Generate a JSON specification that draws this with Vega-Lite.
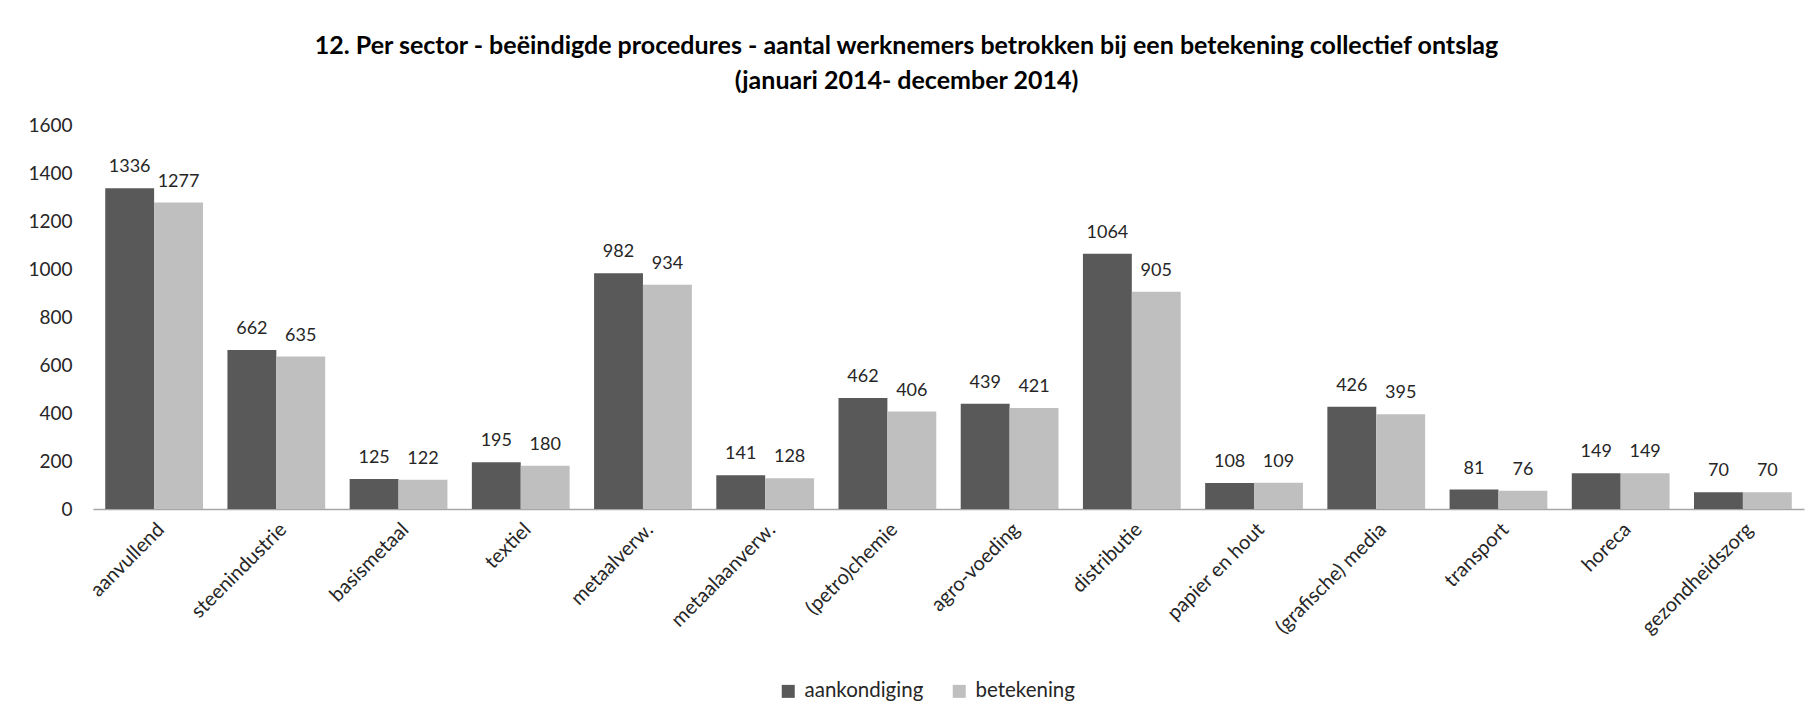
{
  "$schema": "https://vega.github.io/schema/vega-lite/v6.json",
  "width": 1711,
  "height": 384,
  "autosize": {"type": "none"},
  "padding": {"left": 93, "top": 125, "right": 7, "bottom": 211},
  "background": "white",
  "config": {
    "font": "Lato",
    "view": {"stroke": null},
    "axis": {"labelFont": "Lato", "labelColor": "#262626"},
    "legend": {"labelFont": "Lato", "labelColor": "#262626"}
  },
  "title": {
    "text": ["12. Per sector - beëindigde procedures - aantal werknemers betrokken bij een betekening collectief ontslag", "(januari 2014- december 2014)"],
    "font": "Lato",
    "fontSize": 25,
    "fontWeight": "bold",
    "color": "#000000",
    "anchor": "middle",
    "dx": -42,
    "offset": 22,
    "lineHeight": 35
  },
  "data": {
    "values": [
      {"sector": "aanvullend", "type": "aankondiging", "value": 1336},
      {"sector": "aanvullend", "type": "betekening", "value": 1277},
      {"sector": "steenindustrie", "type": "aankondiging", "value": 662},
      {"sector": "steenindustrie", "type": "betekening", "value": 635},
      {"sector": "basismetaal", "type": "aankondiging", "value": 125},
      {"sector": "basismetaal", "type": "betekening", "value": 122},
      {"sector": "textiel", "type": "aankondiging", "value": 195},
      {"sector": "textiel", "type": "betekening", "value": 180},
      {"sector": "metaalverw.", "type": "aankondiging", "value": 982},
      {"sector": "metaalverw.", "type": "betekening", "value": 934},
      {"sector": "metaalaanverw.", "type": "aankondiging", "value": 141},
      {"sector": "metaalaanverw.", "type": "betekening", "value": 128},
      {"sector": "(petro)chemie", "type": "aankondiging", "value": 462},
      {"sector": "(petro)chemie", "type": "betekening", "value": 406},
      {"sector": "agro-voeding", "type": "aankondiging", "value": 439},
      {"sector": "agro-voeding", "type": "betekening", "value": 421},
      {"sector": "distributie", "type": "aankondiging", "value": 1064},
      {"sector": "distributie", "type": "betekening", "value": 905},
      {"sector": "papier en hout", "type": "aankondiging", "value": 108},
      {"sector": "papier en hout", "type": "betekening", "value": 109},
      {"sector": "(grafische) media", "type": "aankondiging", "value": 426},
      {"sector": "(grafische) media", "type": "betekening", "value": 395},
      {"sector": "transport", "type": "aankondiging", "value": 81},
      {"sector": "transport", "type": "betekening", "value": 76},
      {"sector": "horeca", "type": "aankondiging", "value": 149},
      {"sector": "horeca", "type": "betekening", "value": 149},
      {"sector": "gezondheidszorg", "type": "aankondiging", "value": 70},
      {"sector": "gezondheidszorg", "type": "betekening", "value": 70}
    ]
  },
  "encoding": {
    "x": {
      "field": "sector",
      "type": "nominal",
      "sort": null,
      "scale": {"paddingInner": 0.2, "paddingOuter": 0.1},
      "axis": {
        "title": null,
        "labelAngle": -45,
        "labelFontSize": 20,
        "labelPadding": 10,
        "ticks": false,
        "domainColor": "#a6a6a6",
        "domainWidth": 1.5
      }
    },
    "xOffset": {"field": "type", "type": "nominal", "sort": ["aankondiging", "betekening"]},
    "y": {
      "field": "value",
      "type": "quantitative",
      "scale": {"domain": [0, 1600]},
      "axis": {
        "title": null,
        "values": [0, 200, 400, 600, 800, 1000, 1200, 1400, 1600],
        "format": "d",
        "grid": false,
        "domain": false,
        "ticks": false,
        "labelFontSize": 19,
        "labelPadding": 21
      }
    }
  },
  "layer": [
    {
      "mark": {"type": "bar"},
      "encoding": {
        "color": {
          "field": "type",
          "type": "nominal",
          "sort": ["aankondiging", "betekening"],
          "scale": {"domain": ["aankondiging", "betekening"], "range": ["#595959", "#bfbfbf"]},
          "legend": {
            "title": null,
            "orient": "none",
            "direction": "horizontal",
            "legendX": 685,
            "legendY": 556,
            "symbolType": "square",
            "symbolSize": 169,
            "symbolStrokeWidth": 0,
            "labelFontSize": 20.5,
            "labelOffset": 6,
            "columnPadding": 25
          }
        }
      }
    },
    {
      "mark": {"type": "text", "baseline": "alphabetic", "dy": -16, "fontSize": 18, "color": "#262626", "font": "Lato"},
      "encoding": {"text": {"field": "value", "type": "quantitative"}}
    }
  ]
}
